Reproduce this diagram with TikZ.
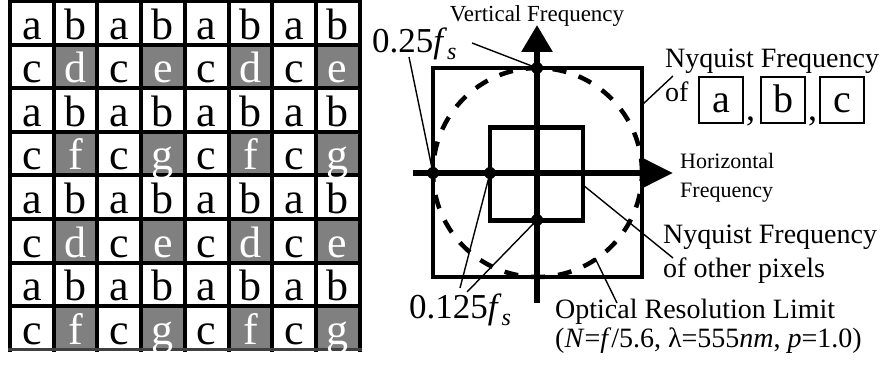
\documentclass[tikz,border=0pt]{standalone}
\usepackage[no-math]{fontspec}
\setmainfont{Liberation Serif}
\usetikzlibrary{arrows.meta}
\definecolor{cellgray}{RGB}{128,128,128}
\newcommand{\fsub}{\textit{f}\raisebox{-7pt}{\fontsize{24}{26}\selectfont\textit{s}}}
\begin{document}
\begin{tikzpicture}[x=1pt,y=-1pt,
  lbl/.style={inner sep=0pt, anchor=base west},
  ldr/.style={line width=1.4pt},
  dotn/.style={circle, fill=black, inner sep=0pt, minimum size=12pt},
  fsmall/.style={font=\fontsize{22}{26}\selectfont},
  fmid/.style={font=\fontsize{28}{32}\selectfont},
  fmath/.style={font=\fontsize{35}{38}\selectfont},
  fcell/.style={font=\fontsize{44}{48}\selectfont},
  gridline/.style={line width=4pt, line cap=rect},
  thick4/.style={line width=4.5pt},
  boxl/.style={draw, line width=1.3pt, minimum width=44pt, minimum height=46pt,
    inner sep=0pt, text height=30pt, text depth=4pt, font=\fontsize{40}{44}\selectfont},
]
\useasboundingbox (0,0) rectangle (887,369);

% ---------- pixel grid ----------
\foreach \r in {1,3,5,7}
  \foreach \c in {1,3,5,7}
    \fill[cellgray] ({10+\c*43.7},{1+\r*43.6}) rectangle ++(43.7,43.6);
\foreach \i in {0,...,8}
  \draw[gridline] ({10+\i*43.7},1) -- ({10+\i*43.7},349.8);
\foreach \i in {0,...,7}
  \draw[gridline] (10,{1+\i*43.6}) -- (359.6,{1+\i*43.6});
\draw[line width=3pt, black!75] (8,349.8) -- (361.6,349.8);

\foreach \r/\lst in {
  0/{a/black,b/black,a/black,b/black,a/black,b/black,a/black,b/black},
  1/{c/black,d/white,c/black,e/white,c/black,d/white,c/black,e/white},
  2/{a/black,b/black,a/black,b/black,a/black,b/black,a/black,b/black},
  3/{c/black,f/white,c/black,g/white,c/black,f/white,c/black,g/white},
  4/{a/black,b/black,a/black,b/black,a/black,b/black,a/black,b/black},
  5/{c/black,d/white,c/black,e/white,c/black,d/white,c/black,e/white},
  6/{a/black,b/black,a/black,b/black,a/black,b/black,a/black,b/black},
  7/{c/black,f/white,c/black,g/white,c/black,f/white,c/black,g/white}}
  \foreach \l/\col [count=\c from 0] in \lst
    \node[fcell, inner sep=0pt, anchor=base, text=\col] (cell-\r-\c)
      at ({10+\c*43.7+21.85},{1+(\r+1)*43.6-5.5}) {\l};

% ---------- frequency diagram ----------
\node[draw, thick4, minimum size=209pt, inner sep=0pt] (outer) at (537.5,172.5) {};
\node[draw, thick4, minimum size=93pt, inner sep=0pt] (inner) at (536.5,174) {};
\node[draw, circle, line width=4.5pt, dash pattern=on 14pt off 13pt, minimum size=209pt, inner sep=0pt] (olr) at (537.5,172.5) {};

\coordinate (hstart) at (413,173);
\coordinate (hend) at (673,173);
\coordinate (vstart) at (537,303);
\coordinate (vend) at (537,25);
\draw[line width=6pt, -{Triangle[length=30pt,width=28pt]}] (hstart) -- (hend);
\draw[line width=6pt, -{Triangle[length=27pt,width=30pt]}] (vstart) -- (vend);

\node[dotn] (dtop) at (537,68) {};
\node[dotn] (dleft) at (433,173) {};
\node[dotn] (dinl) at (490,173) {};
\node[dotn] (dinb) at (537,220) {};

% labels
\node[inner sep=0pt, anchor=base, font=\fontsize{23}{27}\selectfont] (vf) at (537,22) {Vertical Frequency};
\node[lbl, fmath] (l025) at (372,53) {0.25\fsub};
\node[lbl, fmath] (l0125) at (409,318) {0.125\fsub};
\node[lbl, fmid] (nq1) at (665,68) {Nyquist Frequency};
\node[lbl, fmid] (of1) at (665,102) {of};
\node[boxl] (ba) at (721,100) {a};
\node[boxl] (bb) at (783,100) {b};
\node[boxl] (bc) at (842,100) {c};
\node[lbl, font=\fontsize{36}{40}\selectfont] (cm1) at (746,121) {,};
\node[lbl, font=\fontsize{36}{40}\selectfont] (cm2) at (808,121) {,};
\node[lbl, fsmall] (hz1) at (680,168) {Horizontal};
\node[lbl, fsmall] (hz2) at (680,197) {Frequency};
\node[lbl, fmid] (nq2) at (663,243) {Nyquist Frequency};
\node[lbl, fmid] (of2) at (663,277) {of other pixels};
\node[lbl, fmid] (orl) at (555,318) {Optical Resolution Limit};
\node[lbl, fmid] (par) at (555,347) {(\textit{N}=\textit{f}/5.6, λ=555\textit{nm}, \textit{p}=1.0)};

% leaders
\coordinate (a1) at (472,43);
\coordinate (a2) at (409,57);
\coordinate (b1) at (460,288);
\coordinate (b2) at (467,292);
\coordinate (c1) at (642,105);
\coordinate (c2) at (673,76);
\coordinate (d1) at (583,185);
\coordinate (d2) at (673,258);
\coordinate (e1) at (595,258);
\coordinate (e2) at (617,303);
\draw[ldr] (a1) -- (dtop.center);
\draw[ldr] (a2) -- (dleft.center);
\draw[ldr] (b1) -- (dinl.center);
\draw[ldr] (b2) -- (dinb.center);
\draw[ldr] (c1) -- (c2);
\draw[ldr] (d1) -- (d2);
\draw[ldr] (e1) -- (e2);
\end{tikzpicture}
\end{document}
